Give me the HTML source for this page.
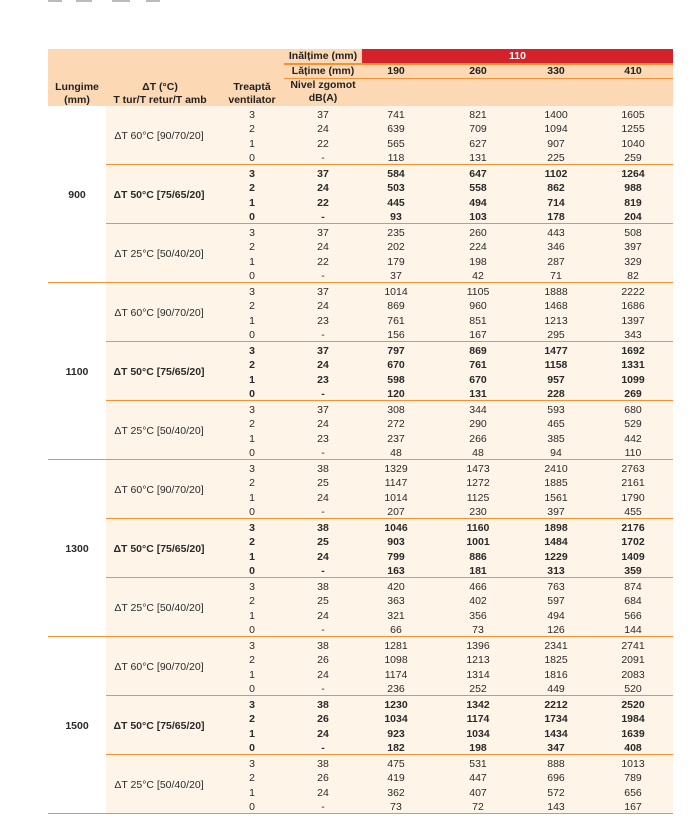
<!DOCTYPE html>
<html><head><meta charset="utf-8"><style>
*{box-sizing:border-box;margin:0;padding:0}
body{width:693px;height:831px;background:#fff;position:relative;overflow:hidden;font-family:"Liberation Sans",sans-serif;color:#2a2a2a}
.g{position:absolute;top:0;height:2px;background:#bbb}
#hd{position:absolute;left:48px;top:49px;width:625px;height:57px;background:#fcd8b5}
#red{position:absolute;left:362px;top:49px;width:311px;height:14px;background:#d3222a;color:#fff;font-weight:bold;font-size:10.5px;text-align:center;line-height:14px}
.hl{position:absolute;left:284px;width:389px;height:1.5px;background:#f39234}
.ht{position:absolute;font-weight:bold;font-size:10.5px;text-align:center;line-height:13px;color:#222}
.blk{position:absolute;left:48px;width:625px;height:177px;border-bottom:1.5px solid #f39234}
.len{position:absolute;left:0;top:0;width:58px;height:177px;display:flex;align-items:center;justify-content:center;font-weight:bold;font-size:10.5px}
.ar{position:absolute;left:58px;top:0;width:567px;height:175.5px;background:#fef5e8}
.grp{position:relative;height:59px;padding-top:1.5px}
.grp.s{border-bottom:1.5px solid #f39234}
.lab{position:absolute;left:0;top:0;width:106px;height:59px;display:flex;align-items:center;justify-content:center;font-size:10.5px}
.b .lab,.b .r{font-weight:bold}
.r{position:relative;height:14.5px;font-size:10.5px;line-height:14.5px}
.r span{position:absolute;width:64px;text-align:center}
.r span:nth-child(1){left:114px}
.r span:nth-child(2){left:185px}
.r span:nth-child(3){left:258px}
.r span:nth-child(4){left:340px}
.r span:nth-child(5){left:418px}
.r span:nth-child(6){left:495px}
</style></head><body>
<div class="g" style="left:48px;width:14px"></div><div class="g" style="left:76px;width:16px"></div><div class="g" style="left:112px;width:18px"></div><div class="g" style="left:146px;width:14px"></div>
<div id="hd"></div>
<div id="red">110</div>
<div class="hl" style="top:63px"></div>
<div class="hl" style="top:77.5px"></div>
<div class="ht" style="left:284px;top:50px;width:78px">Inălțime (mm)</div>
<div class="ht" style="left:284px;top:64.5px;width:78px">Lățime (mm)</div>
<div class="ht" style="left:364px;top:64.5px;width:64px">190</div>
<div class="ht" style="left:446px;top:64.5px;width:64px">260</div>
<div class="ht" style="left:524px;top:64.5px;width:64px">330</div>
<div class="ht" style="left:601px;top:64.5px;width:64px">410</div>
<div class="ht" style="left:280px;top:79px;width:86px">Nivel zgomot<br>dB(A)</div>
<div class="ht" style="left:48px;top:80.5px;width:58px">Lungime<br>(mm)</div>
<div class="ht" style="left:106px;top:80.5px;width:108px">ΔT (°C)<br>T tur/T retur/T amb</div>
<div class="ht" style="left:216px;top:80.5px;width:72px">Treaptă<br>ventilator</div>

<div class="blk" style="top:106px"><div class="len">900</div><div class="ar">
<div class="grp s"><div class="lab">ΔT 60°C [90/70/20]</div>
<div class="r"><span>3</span><span>37</span><span>741</span><span>821</span><span>1400</span><span>1605</span></div>
<div class="r"><span>2</span><span>24</span><span>639</span><span>709</span><span>1094</span><span>1255</span></div>
<div class="r"><span>1</span><span>22</span><span>565</span><span>627</span><span>907</span><span>1040</span></div>
<div class="r"><span>0</span><span>-</span><span>118</span><span>131</span><span>225</span><span>259</span></div></div>
<div class="grp s b"><div class="lab">ΔT 50°C [75/65/20]</div>
<div class="r"><span>3</span><span>37</span><span>584</span><span>647</span><span>1102</span><span>1264</span></div>
<div class="r"><span>2</span><span>24</span><span>503</span><span>558</span><span>862</span><span>988</span></div>
<div class="r"><span>1</span><span>22</span><span>445</span><span>494</span><span>714</span><span>819</span></div>
<div class="r"><span>0</span><span>-</span><span>93</span><span>103</span><span>178</span><span>204</span></div></div>
<div class="grp"><div class="lab">ΔT 25°C [50/40/20]</div>
<div class="r"><span>3</span><span>37</span><span>235</span><span>260</span><span>443</span><span>508</span></div>
<div class="r"><span>2</span><span>24</span><span>202</span><span>224</span><span>346</span><span>397</span></div>
<div class="r"><span>1</span><span>22</span><span>179</span><span>198</span><span>287</span><span>329</span></div>
<div class="r"><span>0</span><span>-</span><span>37</span><span>42</span><span>71</span><span>82</span></div></div>
</div></div>

<div class="blk" style="top:283px"><div class="len">1100</div><div class="ar">
<div class="grp s"><div class="lab">ΔT 60°C [90/70/20]</div>
<div class="r"><span>3</span><span>37</span><span>1014</span><span>1105</span><span>1888</span><span>2222</span></div>
<div class="r"><span>2</span><span>24</span><span>869</span><span>960</span><span>1468</span><span>1686</span></div>
<div class="r"><span>1</span><span>23</span><span>761</span><span>851</span><span>1213</span><span>1397</span></div>
<div class="r"><span>0</span><span>-</span><span>156</span><span>167</span><span>295</span><span>343</span></div></div>
<div class="grp s b"><div class="lab">ΔT 50°C [75/65/20]</div>
<div class="r"><span>3</span><span>37</span><span>797</span><span>869</span><span>1477</span><span>1692</span></div>
<div class="r"><span>2</span><span>24</span><span>670</span><span>761</span><span>1158</span><span>1331</span></div>
<div class="r"><span>1</span><span>23</span><span>598</span><span>670</span><span>957</span><span>1099</span></div>
<div class="r"><span>0</span><span>-</span><span>120</span><span>131</span><span>228</span><span>269</span></div></div>
<div class="grp"><div class="lab">ΔT 25°C [50/40/20]</div>
<div class="r"><span>3</span><span>37</span><span>308</span><span>344</span><span>593</span><span>680</span></div>
<div class="r"><span>2</span><span>24</span><span>272</span><span>290</span><span>465</span><span>529</span></div>
<div class="r"><span>1</span><span>23</span><span>237</span><span>266</span><span>385</span><span>442</span></div>
<div class="r"><span>0</span><span>-</span><span>48</span><span>48</span><span>94</span><span>110</span></div></div>
</div></div>

<div class="blk" style="top:460px"><div class="len">1300</div><div class="ar">
<div class="grp s"><div class="lab">ΔT 60°C [90/70/20]</div>
<div class="r"><span>3</span><span>38</span><span>1329</span><span>1473</span><span>2410</span><span>2763</span></div>
<div class="r"><span>2</span><span>25</span><span>1147</span><span>1272</span><span>1885</span><span>2161</span></div>
<div class="r"><span>1</span><span>24</span><span>1014</span><span>1125</span><span>1561</span><span>1790</span></div>
<div class="r"><span>0</span><span>-</span><span>207</span><span>230</span><span>397</span><span>455</span></div></div>
<div class="grp s b"><div class="lab">ΔT 50°C [75/65/20]</div>
<div class="r"><span>3</span><span>38</span><span>1046</span><span>1160</span><span>1898</span><span>2176</span></div>
<div class="r"><span>2</span><span>25</span><span>903</span><span>1001</span><span>1484</span><span>1702</span></div>
<div class="r"><span>1</span><span>24</span><span>799</span><span>886</span><span>1229</span><span>1409</span></div>
<div class="r"><span>0</span><span>-</span><span>163</span><span>181</span><span>313</span><span>359</span></div></div>
<div class="grp"><div class="lab">ΔT 25°C [50/40/20]</div>
<div class="r"><span>3</span><span>38</span><span>420</span><span>466</span><span>763</span><span>874</span></div>
<div class="r"><span>2</span><span>25</span><span>363</span><span>402</span><span>597</span><span>684</span></div>
<div class="r"><span>1</span><span>24</span><span>321</span><span>356</span><span>494</span><span>566</span></div>
<div class="r"><span>0</span><span>-</span><span>66</span><span>73</span><span>126</span><span>144</span></div></div>
</div></div>

<div class="blk" style="top:637px"><div class="len">1500</div><div class="ar">
<div class="grp s"><div class="lab">ΔT 60°C [90/70/20]</div>
<div class="r"><span>3</span><span>38</span><span>1281</span><span>1396</span><span>2341</span><span>2741</span></div>
<div class="r"><span>2</span><span>26</span><span>1098</span><span>1213</span><span>1825</span><span>2091</span></div>
<div class="r"><span>1</span><span>24</span><span>1174</span><span>1314</span><span>1816</span><span>2083</span></div>
<div class="r"><span>0</span><span>-</span><span>236</span><span>252</span><span>449</span><span>520</span></div></div>
<div class="grp s b"><div class="lab">ΔT 50°C [75/65/20]</div>
<div class="r"><span>3</span><span>38</span><span>1230</span><span>1342</span><span>2212</span><span>2520</span></div>
<div class="r"><span>2</span><span>26</span><span>1034</span><span>1174</span><span>1734</span><span>1984</span></div>
<div class="r"><span>1</span><span>24</span><span>923</span><span>1034</span><span>1434</span><span>1639</span></div>
<div class="r"><span>0</span><span>-</span><span>182</span><span>198</span><span>347</span><span>408</span></div></div>
<div class="grp"><div class="lab">ΔT 25°C [50/40/20]</div>
<div class="r"><span>3</span><span>38</span><span>475</span><span>531</span><span>888</span><span>1013</span></div>
<div class="r"><span>2</span><span>26</span><span>419</span><span>447</span><span>696</span><span>789</span></div>
<div class="r"><span>1</span><span>24</span><span>362</span><span>407</span><span>572</span><span>656</span></div>
<div class="r"><span>0</span><span>-</span><span>73</span><span>72</span><span>143</span><span>167</span></div></div>
</div></div>
</body></html>
